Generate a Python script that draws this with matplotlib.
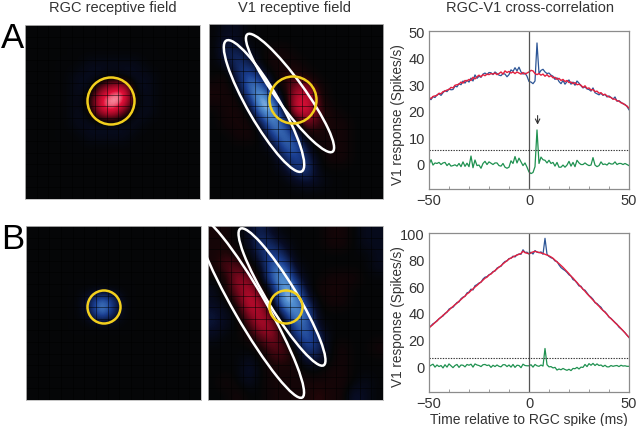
import numpy as np
import matplotlib
matplotlib.use('Agg')
import matplotlib.pyplot as plt
from matplotlib.colors import LinearSegmentedColormap
from matplotlib.patches import Ellipse, Circle

plt.rcParams['font.family'] = ['Liberation Sans', 'DejaVu Sans']

# Receptive field grids (15 x 15, tenths of the peak response, + red / - blue)
rf_a_rgc = [
    [0, 0, 0, 0, 0, 0, 0, 0, 0, 0, 0, 0, 0, 0, 0],
    [0, 0, 0, 0, 0, 0, 0, 0, 0, 0, 0, 0, 0, 0, 0],
    [0, 0, 0, 0, 0, 0, 0, 0, 0, 0, 0, 0, 0, 0, 0],
    [0, 0, 0, 0, 0, -1, -1, -1, -1, -1, 0, 0, 0, 0, 0],
    [0, 0, 0, 0, -1, -1, -1, 0, -1, -1, -1, 0, 0, 0, 0],
    [0, 0, 0, 0, -1, -1, 4, 7, 8, -1, -1, 0, 0, 0, 0],
    [0, 0, 0, 0, -1, 1, 8, 10, 9, 0, -1, 0, 0, 0, 0],
    [0, 0, 0, 0, -1, 0, 6, 8, 3, -1, -1, 0, 0, 0, 0],
    [0, 0, 0, 0, -1, -1, -1, -1, -1, -1, 0, 0, 0, 0, 0],
    [0, 0, 0, 0, 0, -1, -1, -1, -1, 0, 0, 0, 0, 0, 0],
    [0, 0, 0, 0, 0, 0, 0, 0, 0, 0, 0, 0, 0, 0, 0],
    [0, 0, 0, 0, 0, 0, 0, 0, 0, 0, 0, 0, 0, 0, 0],
    [0, 0, 0, 0, 0, 0, 0, 0, 0, 0, 0, 0, 0, 0, 0],
    [0, 0, 0, 0, 0, 0, 0, 0, 0, 0, 0, 0, 0, 0, 0],
    [0, 0, 0, 0, 0, 0, 0, 0, 0, 0, 0, 0, 0, 0, 0],
]
rf_a_v1 = [
    [0, -1, -1, 0, 0, 0, 0, 0, 0, 0, 0, 0, 0, 0, 0],
    [0, -2, -1, 0, 0, 0, 0, 0, 0, 0, 0, 0, 0, 0, 0],
    [0, -3, -3, -1, 0, 1, 1, 0, 0, 0, 0, 0, 0, 0, 0],
    [0, -1, -4, -3, 0, 1, 1, 1, 0, 0, 0, 0, 0, 0, 0],
    [0, 1, -3, -6, -3, 0, 2, 2, 1, 0, 0, 0, 0, 0, 0],
    [1, 1, -1, -7, -7, -1, 1, 5, 5, 1, 0, 0, 0, 0, 0],
    [1, 1, 1, -4, -10, -6, 0, 7, 7, 2, 0, 0, 0, 0, 0],
    [0, 1, 1, 0, -8, -9, -1, 7, 7, 2, 1, 0, 0, 0, 0],
    [0, 1, 1, 1, -2, -8, -5, 0, 4, 2, 1, 1, 0, 0, 0],
    [0, 0, 1, 1, 0, -5, -7, -3, 1, 1, 1, 1, 0, 0, 0],
    [0, 0, 0, 0, 0, -1, -6, -6, -1, 1, 1, 1, 0, 0, 0],
    [0, 0, 0, 0, 0, 0, -3, -5, -3, 0, 1, 1, 0, 0, 0],
    [0, 0, 0, 0, 0, 0, -1, -4, -4, 0, 0, 0, 0, 0, 0],
    [0, 0, 0, 0, 0, 0, 0, -1, -2, -1, 0, 0, 0, 0, 0],
    [0, 0, 0, 0, 0, 0, 0, 0, 0, 0, 0, 0, 0, 0, 0],
]
rf_b_rgc = [
    [0, 0, 0, 0, 0, 0, 0, 0, 0, 0, 0, 0, 0, 0, 0],
    [0, 0, 0, 0, 0, 0, 0, 0, 0, 0, 0, 0, 0, 0, 0],
    [0, 0, 0, 0, 0, 0, 0, 0, 0, 0, 0, 0, 0, 0, 0],
    [0, 0, 0, 0, 0, 0, 0, 0, 0, 0, 0, 0, 0, 0, 0],
    [0, 0, 0, 0, 0, 0, 0, 0, 0, 0, 0, 0, 0, 0, 0],
    [0, 0, 0, 0, 0, 0, 0, 0, 0, 0, 0, 0, 0, 0, 0],
    [0, 0, 0, 0, 0, -3, -8, -4, 0, 0, 0, 0, 0, 0, 0],
    [0, 0, 0, 0, 0, -2, -8, -3, 0, 0, 0, 0, 0, 0, 0],
    [0, 0, 0, 0, 0, 0, 0, 0, 0, 0, 0, 0, 0, 0, 0],
    [0, 0, 0, 0, 0, 0, 0, 0, 0, 0, 0, 0, 0, 0, 0],
    [0, 0, 0, 0, 0, 0, 0, 0, 0, 0, 0, 0, 0, 0, 0],
    [0, 0, 0, 0, 0, 0, 0, 0, 0, 0, 0, 0, 0, 0, 0],
    [0, 0, 0, 0, 0, 0, 0, 0, 0, 0, 0, 0, 0, 0, 0],
    [0, 0, 0, 0, 0, 0, 0, 0, 0, 0, 0, 0, 0, 0, 0],
    [0, 0, 0, 0, 0, 0, 0, 0, 0, 0, 0, 0, 0, 0, 0],
]
rf_b_v1 = [
    [1, 1, 0, -1, -3, -1, 0, 0, 0, 0, 1, 1, 0, -1, -1],
    [1, 1, 0, -1, -4, -3, -1, 0, 0, 0, 1, 1, 0, -1, -1],
    [1, 2, 1, 0, -3, -5, -3, 0, 0, 0, 0, 0, 0, 0, -1],
    [1, 3, 3, 1, -1, -6, -6, -1, 0, 0, 0, 0, 0, 0, -1],
    [0, 1, 5, 4, 0, -6, -9, -3, 0, 0, 1, 1, 1, 0, 0],
    [-1, 1, 4, 6, 2, -2, -9, -7, -1, 1, 1, 1, 0, 0, 0],
    [-1, 0, 2, 7, 5, 0, -9, -8, -3, 0, 1, 1, 0, 0, 0],
    [-2, -1, 0, 5, 6, 2, -4, -8, -6, 0, 0, 0, 0, 0, 0],
    [-2, -1, 0, 2, 6, 5, 0, -6, -6, -1, 0, 0, 0, 0, 0],
    [-1, 0, 0, 1, 3, 5, 1, -4, -6, -3, 0, 0, 0, 0, 0],
    [0, 0, 0, 0, 1, 3, 3, 0, -5, -3, 0, 1, 0, 0, 1],
    [0, 0, 0, -1, 0, 2, 2, 1, -2, -2, 0, 1, 0, 0, 0],
    [0, 0, 0, -2, 0, 1, 1, 1, 0, 0, 1, 1, 0, 0, 0],
    [0, 1, 0, -1, 0, 1, 1, 1, 1, 1, 1, 1, 0, -1, 0],
    [0, 0, 1, 0, 0, 1, 1, 1, 1, 2, 1, 1, -2, -1, 0],
]

# Cross-correlation curves, one value per ms from -50 to 50
time_ms = list(range(-50, 51))
a_blue = [24.5, 24.2, 25.3, 25.0, 26.0, 26.4, 25.8, 26.8, 27.6, 27.2,
          28.2, 27.9, 28.0, 29.3, 29.0, 30.2, 29.8, 31.2, 30.4, 31.5,
          30.8, 32.3, 31.2, 33.5, 32.2, 33.0, 32.6, 33.8, 34.2, 33.6,
          34.4, 34.3, 33.6, 34.6, 34.0, 33.4, 33.2, 34.0, 33.8, 32.8,
          33.6, 35.4, 34.8, 36.2, 35.0, 36.4, 34.6, 33.8, 34.2, 33.0,
          31.0, 30.8, 30.2, 31.2, 45.5, 34.0, 35.2, 35.6, 34.6, 34.0,
          34.2, 33.4, 33.0, 31.8, 32.4, 31.0, 30.2, 31.4, 30.0, 31.0,
          31.6, 30.0, 30.8, 29.6, 31.2, 30.4, 29.4, 28.6, 29.0, 28.2,
          28.0, 27.4, 28.6, 26.8, 26.4, 26.0, 26.6, 25.8, 26.2, 25.2,
          25.6, 25.0, 24.4, 25.2, 23.6, 23.8, 23.2, 22.6, 22.4, 21.6, 20.4]
a_red = [25.0, 24.6, 25.4, 25.6, 25.8, 26.6, 26.4, 27.2, 27.4, 27.8,
         28.0, 28.8, 28.6, 29.6, 29.8, 30.0, 30.8, 30.4, 31.4, 31.2,
         31.8, 31.4, 32.6, 32.0, 32.8, 33.4, 32.8, 33.6, 33.2, 33.8,
         33.6, 34.0, 33.8, 34.2, 33.6, 34.0, 34.6, 33.8, 35.0, 34.4,
         34.8, 34.2, 34.6, 34.0, 34.6, 34.2, 33.8, 34.4, 33.8, 34.2,
         34.6, 35.2, 35.0, 34.0, 33.6, 34.0, 33.4, 33.8, 33.0, 33.6,
         32.8, 33.2, 32.4, 32.6, 31.8, 32.2, 31.4, 31.8, 31.0, 31.4,
         30.6, 30.8, 30.2, 30.6, 29.8, 30.0, 29.6, 28.8, 29.4, 28.4,
         28.6, 27.8, 28.0, 27.2, 27.4, 26.6, 26.8, 26.0, 26.2, 25.6,
         25.2, 25.0, 24.4, 24.4, 23.8, 23.6, 23.0, 22.8, 22.2, 21.8, 21.0]
a_green = [-0.2, 1.6, -0.4, 0.4, 0.2, 0.6, -0.2, 0.4, 0.6, -0.6,
           0.2, -0.8, -0.6, -0.3, -0.8, 0.2, -1.0, 0.8, -0.9, 0.3,
           -1.0, 3.0, -1.4, 1.5, -0.6, -0.4, -1.6, 0.2, 1.0, -0.2,
           0.8, 0.3, -0.2, 0.4, 0.4, -0.6, -0.8, 0.2, -1.2, -1.6,
           -1.2, 1.2, 0.2, 2.8, 0.4, 2.2, 0.8, -0.6, 0.4, -1.2,
           -3.0, -3.6, -3.2, -1.0, 12.8, 0.2, 2.6, 1.6, 1.4, 0.4,
           1.4, 0.2, 0.6, -0.8, 0.6, -1.2, -1.2, -0.4, -1.2, -0.4,
           1.0, -0.8, 0.6, -1.0, 1.4, 0.4, -0.2, -0.2, 0.4, -0.2,
           -0.6, -0.4, 2.4, -0.4, -1.0, -0.6, 0.8, -0.2, 0.0, -0.4,
           0.4, 0.0, 0.0, 0.8, -0.2, 0.2, 0.2, -0.2, 0.2, -0.2, -0.6]
b_blue = [29.0, 30.2, 31.8, 32.6, 34.2, 35.4, 36.8, 37.6, 39.6, 40.4,
          42.8, 43.6, 44.2, 46.0, 47.8, 48.2, 50.6, 51.8, 52.4, 55.0,
          55.6, 57.8, 57.2, 60.4, 61.2, 62.4, 63.0, 65.4, 66.8, 67.2,
          68.6, 69.4, 71.0, 71.4, 73.6, 74.4, 75.0, 77.2, 78.6, 79.0,
          80.8, 81.0, 82.6, 82.0, 83.6, 84.2, 84.0, 87.4, 85.4, 85.6,
          84.2, 85.6, 84.2, 86.8, 85.6, 85.2, 85.8, 84.0, 96.0, 84.0,
          82.4, 81.4, 80.8, 79.0, 78.6, 76.0, 74.0, 72.8, 71.8, 70.4,
          68.6, 67.6, 65.0, 64.2, 62.4, 60.2, 60.0, 57.6, 57.0, 55.0,
          53.0, 51.8, 50.2, 47.6, 47.0, 45.4, 44.2, 41.8, 40.8, 39.0,
          36.8, 35.8, 34.2, 32.8, 31.4, 29.2, 28.0, 26.6, 25.0, 23.2, 21.4]
b_red = [28.6, 30.0, 31.2, 32.8, 33.8, 35.6, 36.6, 38.2, 39.2, 40.8,
         42.0, 43.6, 44.8, 46.2, 47.2, 48.8, 50.0, 51.4, 52.6, 54.2,
         55.2, 56.8, 58.0, 59.4, 60.6, 62.0, 63.2, 64.6, 66.0, 66.8,
         68.4, 69.2, 70.6, 71.8, 73.0, 74.4, 75.4, 76.8, 78.0, 79.2,
         80.4, 81.2, 82.0, 82.8, 83.4, 84.0, 84.6, 86.4, 85.2, 84.8,
         84.4, 85.0, 85.8, 86.2, 85.8, 85.4, 85.0, 84.6, 84.0, 83.4,
         82.8, 82.0, 81.0, 79.6, 78.2, 77.0, 75.6, 74.2, 72.6, 71.0,
         69.4, 67.6, 66.2, 64.4, 62.8, 61.0, 59.4, 57.8, 56.2, 54.4,
         52.8, 51.2, 49.6, 48.0, 46.4, 45.0, 43.2, 41.8, 40.4, 38.8,
         37.0, 35.6, 34.2, 32.6, 31.2, 29.8, 28.2, 26.6, 25.0, 23.2, 21.6]
b_green = [-0.4, 0.6, 1.4, -0.8, 0.8, -0.4, 0.4, -1.4, 1.0, -0.8,
           1.6, 0.2, -1.2, 0.4, 1.2, -1.0, 0.8, 0.6, -0.6, 1.2,
           0.6, 1.4, -0.8, 1.6, 0.8, 0.4, -0.4, 1.0, 1.2, 0.4,
           0.8, -1.0, 0.6, -0.4, 0.8, -0.2, -0.6, 1.0, 1.0, -0.4,
           0.8, -0.8, 1.2, -1.0, 0.6, 0.4, -1.2, 1.4, 0.4, 0.2,
           0.2, 1.0, -0.8, 1.2, 0.2, -0.2, 0.8, 0.0, 13.2, 1.0,
           -0.6, -0.4, -1.4, -1.0, -3.0, -2.2, -2.8, -1.8, -2.6, -3.2,
           -2.4, -3.4, -1.8, -2.0, -1.0, -2.2, -0.8, -1.0, 1.2, -0.4,
           1.8, 0.6, 2.0, 0.4, 1.6, 0.4, 0.8, -0.4, 0.6, -0.6,
           -0.6, 0.4, -0.2, 0.2, 0.4, -0.4, 0.6, 0.0, 0.2, -0.2, -0.2]
a_threshold = 5.3
b_threshold = 6.0

W, H = 640, 427
fig = plt.figure(figsize=(W / 100, H / 100), dpi=100)

rf_cmap = LinearSegmentedColormap.from_list('rf', [
    (0.0, (1.0, 1.0, 1.0)),
    (0.05, (0.80, 0.88, 0.96)),
    (0.125, (0.32, 0.56, 0.82)),
    (0.275, (0.10, 0.24, 0.56)),
    (0.425, (0.03, 0.05, 0.15)),
    (0.5, (0.02, 0.025, 0.03)),
    (0.575, (0.11, 0.02, 0.03)),
    (0.725, (0.55, 0.03, 0.13)),
    (0.86, (0.88, 0.06, 0.22)),
    (0.95, (0.98, 0.62, 0.68)),
    (1.0, (1.0, 0.95, 0.96)),
])


def px_axes(x0, y0, x1, y1):
    # axes placed from pixel corners, y measured from the top
    return fig.add_axes([x0 / W, 1 - y1 / H, (x1 - x0) / W, (y1 - y0) / H])


def draw_rf(box, grid, circle, ellipses):
    x0, y0, x1, y1 = box
    ax = px_axes(x0, y0, x1, y1)
    ax.imshow(np.array(grid, dtype=float), cmap=rf_cmap, vmin=-10, vmax=10,
              interpolation='bicubic', extent=(x0, x1, y1, y0), aspect='auto')
    for frac in np.arange(1, 15) / 15:
        ax.axvline(x0 + frac * (x1 - x0), color='black', lw=0.5, alpha=0.7, zorder=2)
        ax.axhline(y0 + frac * (y1 - y0), color='black', lw=0.5, alpha=0.7, zorder=2)
    for cx, cy, length, width, angle in ellipses:
        ax.add_patch(Ellipse((cx, cy), length, width, angle=angle, fill=False,
                             edgecolor='white', lw=1.8, zorder=3))
    ax.add_patch(Circle(circle[:2], circle[2], fill=False, edgecolor='#f2cf1d', lw=1.8, zorder=4))
    ax.set_xlim(x0, x1)
    ax.set_ylim(y1, y0)
    ax.set_xticks([])
    ax.set_yticks([])
    for s in ax.spines.values():
        s.set_color('#bbbbbb')
        s.set_linewidth(0.6)


draw_rf((25, 26, 200, 200), rf_a_rgc, (111, 102, 23.5), [])
draw_rf((208.5, 25, 383, 200), rf_a_v1, (293, 101, 23.5),
        [(264, 107, 151, 32, 60), (290, 94, 145, 28, 54)])
draw_rf((26, 227, 201, 401), rf_b_rgc, (104, 308, 16.5), [])
draw_rf((208, 227, 383, 401), rf_b_v1, (286, 308, 16.5),
        [(282, 298, 160, 29, 58.6), (250, 308, 209, 32, 60)])


def draw_xcorr(box, blue, red, green, thresh, ylim, yticks):
    ax = px_axes(*box)
    ax.plot(time_ms, blue, color='#2c5596', lw=0.9)
    ax.plot(time_ms, red, color='#e3203f', lw=1.0)
    ax.plot(time_ms, green, color='#1f9150', lw=0.9)
    ax.axvline(0, color='#555555', lw=0.9)
    ax.axhline(thresh, color='#333333', lw=0.8, ls=(0, (1.2, 1.2)))
    ax.set_xlim(-50, 50)
    ax.set_ylim(*ylim)
    ax.set_yticks(yticks)
    ax.set_xticks([-50, 0, 50])
    ax.set_xticks(range(-40, 50, 10), minor=True)
    ax.tick_params(axis='x', which='minor', direction='in', length=2, width=0.5, color='#777777')
    ax.tick_params(axis='both', which='major', length=0, labelsize=10.5, labelcolor='#333333', pad=3)
    for s in ax.spines.values():
        s.set_color('#8c8c8c')
        s.set_linewidth(0.9)
    ax.set_ylabel('V1 response (Spikes/s)', fontsize=9.8, color='#333333')
    ax.yaxis.set_label_coords(-24 / 200, 0.48)
    return ax


ax_a = draw_xcorr((429, 32, 629, 190), a_blue, a_red, a_green, a_threshold, (-9.4, 50), [0, 10, 20, 30, 40, 50])
ax_b = draw_xcorr((429, 234, 629, 393), b_blue, b_red, b_green, b_threshold, (-19.5, 100), [0, 20, 40, 60, 80, 100])
ax_b.set_xlabel('Time relative to RGC spike (ms)', fontsize=10, color='#333333', labelpad=1)
ax_a.annotate('', xy=(4.3, 14.8), xytext=(4.3, 18.2),
              arrowprops=dict(arrowstyle='->', color='#333333', lw=0.8, mutation_scale=8, shrinkA=0, shrinkB=0))

fig.text(113 / W, 1 - 8 / H, 'RGC receptive field', ha='center', va='center', fontsize=10.5, color='#333333')
fig.text(295 / W, 1 - 8 / H, 'V1 receptive field', ha='center', va='center', fontsize=10.5, color='#333333')
fig.text(530 / W, 1 - 8 / H, 'RGC-V1 cross-correlation', ha='center', va='center', fontsize=10.5, color='#333333')
fig.text(1 / W, 1 - 38 / H, 'A', ha='left', va='center', fontsize=25, color='black')
fig.text(1 / W, 1 - 240 / H, 'B', ha='left', va='center', fontsize=25, color='black')

fig.savefig('out.png', dpi=100)
